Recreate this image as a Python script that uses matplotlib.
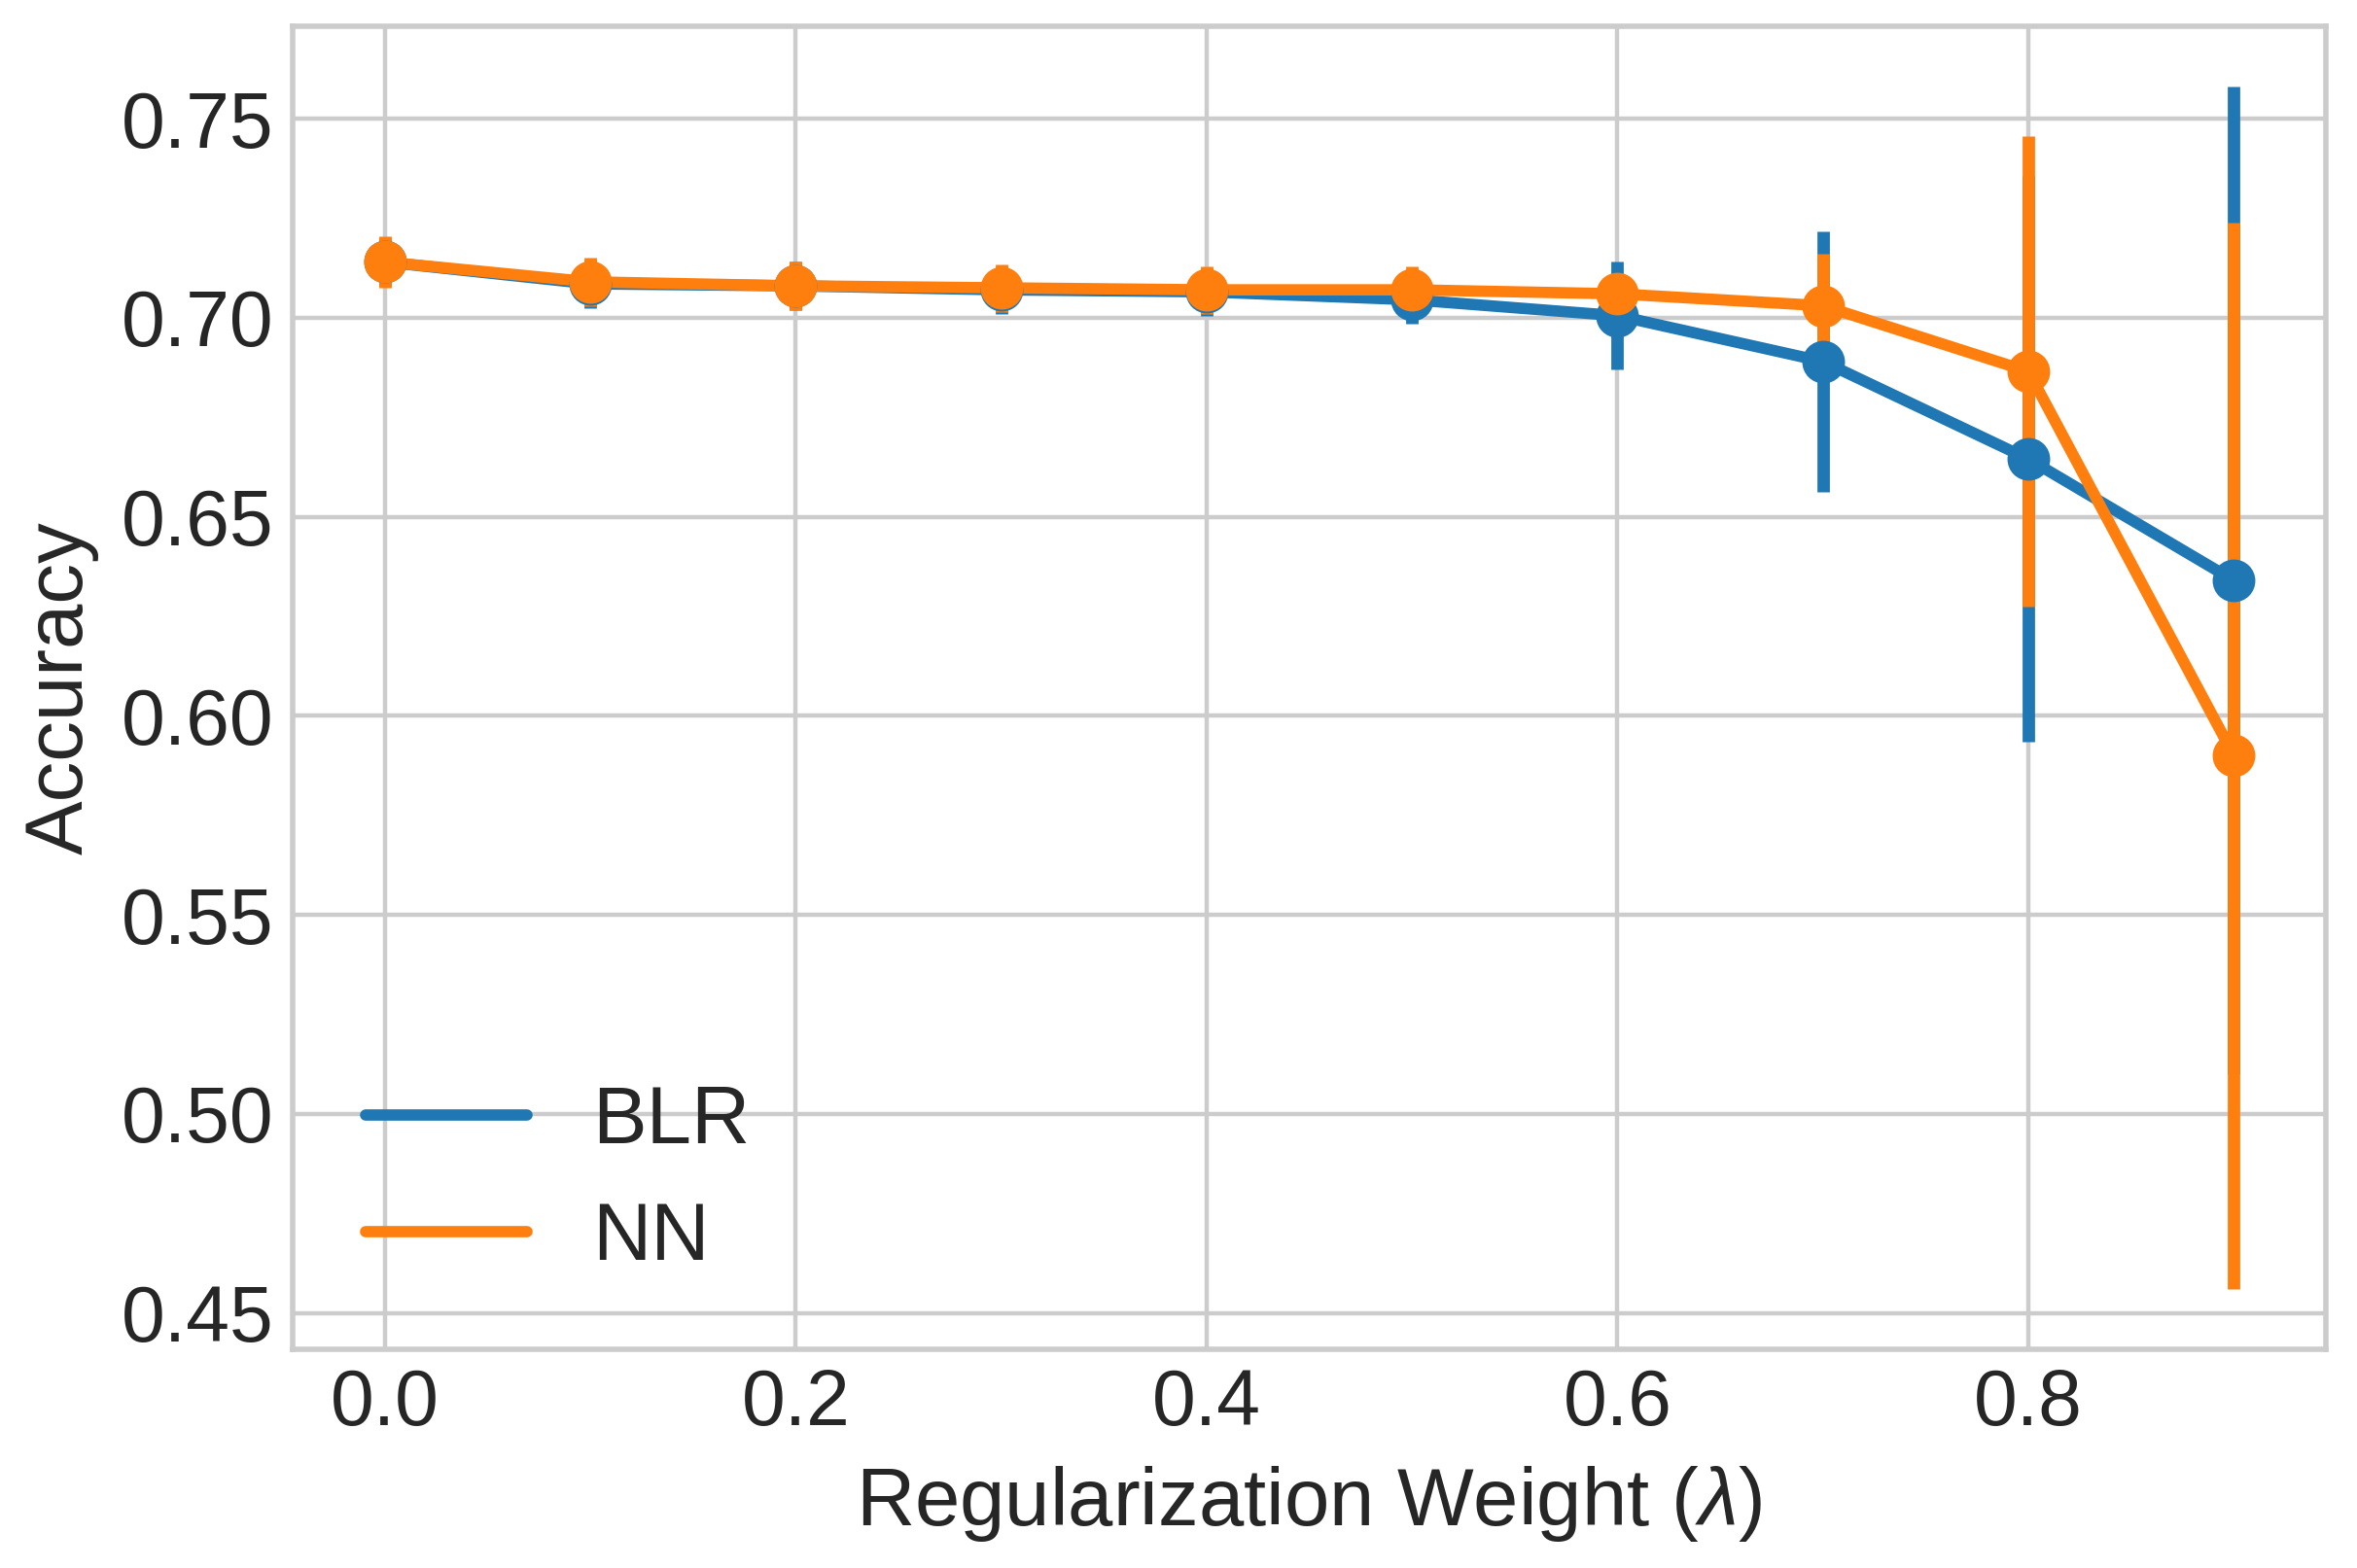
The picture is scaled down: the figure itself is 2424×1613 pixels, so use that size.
import numpy as np
import matplotlib
matplotlib.use('Agg')
from matplotlib import pyplot as plt

plt.style.use('seaborn-v0_8-whitegrid')
plt.rcParams['font.family'] = ['Liberation Sans', 'DejaVu Sans']
plt.rcParams['mathtext.fontset'] = 'custom'
plt.rcParams['mathtext.rm'] = 'Liberation Sans'
plt.rcParams['mathtext.it'] = 'Liberation Sans:italic'

lambdas = [0.0, 0.1, 0.2, 0.3, 0.4, 0.5, 0.6, 0.7, 0.8, 0.9]

blr_acc = [0.714, 0.7085, 0.708, 0.707, 0.7065, 0.7045, 0.7005, 0.689, 0.6645, 0.634]
blr_err = [0.006, 0.006, 0.006, 0.006, 0.006, 0.006, 0.0136, 0.0328, 0.071, 0.124]

nn_acc = [0.714, 0.709, 0.708, 0.7075, 0.707, 0.707, 0.706, 0.703, 0.6865, 0.590]
nn_err = [0.0065, 0.006, 0.006, 0.006, 0.006, 0.006, 0.0045, 0.013, 0.059, 0.134]

series = [('BLR', blr_acc, blr_err, '#1f77b4'),
          ('NN', nn_acc, nn_err, '#ff7f0e')]

fig = plt.figure(figsize=(6.06, 4.0325), dpi=400)
ax = fig.add_axes([0.124, 0.1395, 0.863, 0.8435])

for name, acc, err, color in series:
    ax.plot(lambdas, acc, color=color, lw=2.1, solid_capstyle='round', label=name)
    ax.errorbar(lambdas, acc, yerr=err, fmt='o', color=color, ms=6.9,
                elinewidth=2.3, capsize=0)

ax.set_xlabel(r'Regularization Weight ($\lambda$)', fontsize=15)
ax.set_ylabel('Accuracy', fontsize=15)
ax.tick_params(labelsize=14.5)
ax.set_xticks([0.0, 0.2, 0.4, 0.6, 0.8])
ax.set_yticks([0.45, 0.50, 0.55, 0.60, 0.65, 0.70, 0.75])
ax.set_yticklabels(['0.45', '0.50', '0.55', '0.60', '0.65', '0.70', '0.75'])
for s in ax.spines.values():
    s.set_visible(True)
    s.set_color('#cccccc')
    s.set_linewidth(1.0)

leg = ax.legend(loc='lower left', fontsize=15)

fig.savefig('out.png', dpi=400)
